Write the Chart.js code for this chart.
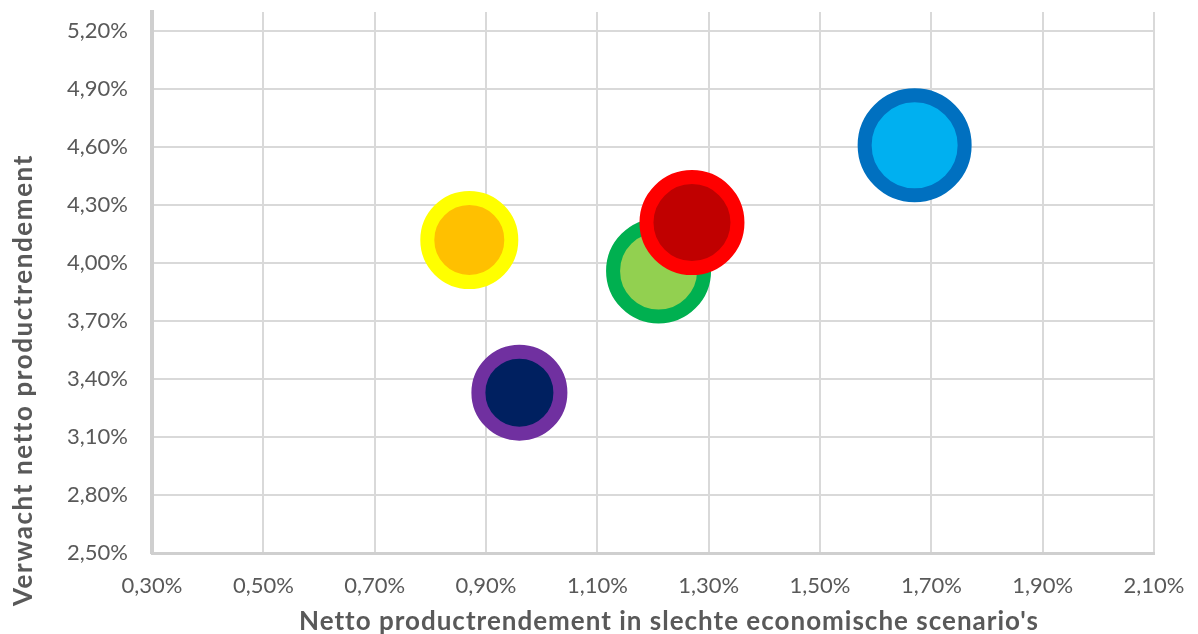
<!DOCTYPE html>
<html lang="nl">
<head>
<meta charset="utf-8">
<title>Productrendement</title>
<script src="https://cdn.jsdelivr.net/npm/chart.js@4/dist/chart.umd.min.js"></script>
<style>
    html, body { margin: 0; padding: 0; background: #ffffff; }
    #wrap { width: 1198px; height: 634px; position: relative; }
</style>
</head>
<body>
<div id="wrap"><canvas id="grafiek"></canvas></div>
<script>
// waarden in procenten
const nettoSlecht = [0.87, 0.96, 1.21, 1.27, 1.67];
const verwacht = [4.12, 3.33, 3.96, 4.21, 4.61];
const bubbelStraal = [42, 41, 45.5, 45.5, 50];
const vulKleuren = ["#FFC000", "#002060", "#92D050", "#C00000", "#00B0F0"];
const randKleuren = ["#FFFF00", "#7030A0", "#00B050", "#FF0000", "#0070C0"];

const xTicks = [0.3, 0.5, 0.7, 0.9, 1.1, 1.3, 1.5, 1.7, 1.9, 2.1];
const yTicks = [2.5, 2.8, 3.1, 3.4, 3.7, 4.0, 4.3, 4.6, 4.9, 5.2];

const titelX = "Netto productrendement in slechte economische scenario's";
const titelY = "Verwacht netto productrendement";

const grijs = "#595959";

function formatPerc(v) {
    return v.toFixed(2).replace(".", ",") + "%";
}

// astitels zelf tekenen, Excel zet ze niet netjes in het midden
const asTitels = {
    id: "asTitels",
    afterDraw(chart) {
        const ctx = chart.ctx;
        ctx.save();
        ctx.fillStyle = grijs;
        ctx.font = "bold 26px Lato";
        ctx.textAlign = "center";
        ctx.textBaseline = "alphabetic";
        ctx.letterSpacing = "1px";
        ctx.fillText(titelX, 669, 630);

        ctx.translate(32, 380);
        ctx.rotate(-Math.PI / 2);
        ctx.letterSpacing = "1.6px";
        ctx.fillText(titelY, 0, 0);
        ctx.restore();
    }
};

const punten = nettoSlecht.map((x, i) => ({ x: x, y: verwacht[i], r: bubbelStraal[i] }));

new Chart(document.getElementById("grafiek"), {
    type: "bubble",
    data: {
        datasets: [{
            label: "Producten",
            data: punten,
            backgroundColor: vulKleuren,
            borderColor: randKleuren,
            borderWidth: 14,
            hoverBorderWidth: 14
        }]
    },
    options: {
        responsive: true,
        maintainAspectRatio: false,
        animation: false,
        layout: {
            autoPadding: false,
            padding: { top: 12, right: 44, left: 0, bottom: 0 }
        },
        plugins: {
            legend: { display: false },
            tooltip: { enabled: false }
        },
        scales: {
            x: {
                type: "linear",
                min: 0.3,
                max: 2.1,
                afterBuildTicks: function (scale) {
                    scale.ticks = xTicks.map(v => ({ value: v }));
                },
                afterFit: function (scale) {
                    scale.height = 81;
                    scale.paddingLeft = 0;
                    scale.paddingRight = 0;
                },
                grid: {
                    color: "#D9D9D9",
                    lineWidth: 2,
                    drawTicks: false
                },
                border: {
                    color: "#CFCFCF",
                    width: 3
                },
                ticks: {
                    padding: 20,
                    color: grijs,
                    font: { family: "Lato", size: 22 },
                    maxRotation: 0,
                    callback: function (value) {
                        return formatPerc(value);
                    }
                }
            },
            y: {
                type: "linear",
                min: 2.5,
                max: 5.3,
                afterBuildTicks: function (scale) {
                    scale.ticks = yTicks.map(v => ({ value: v }));
                },
                afterFit: function (scale) {
                    scale.width = 152;
                    scale.paddingTop = 0;
                    scale.paddingBottom = 0;
                },
                grid: {
                    color: "#D9D9D9",
                    lineWidth: 2,
                    drawTicks: false
                },
                border: {
                    color: "#CFCFCF",
                    width: 4
                },
                ticks: {
                    padding: 24,
                    color: grijs,
                    font: { family: "Lato", size: 22 },
                    callback: function (value) {
                        return formatPerc(value);
                    }
                }
            }
        }
    },
    plugins: [asTitels]
});
</script>
</body>
</html>
